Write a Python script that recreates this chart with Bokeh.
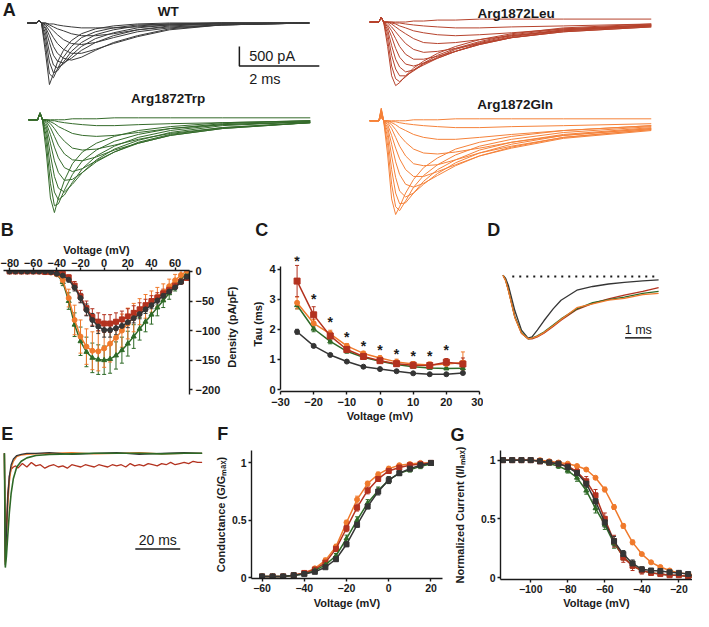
import math
from bokeh.plotting import figure
from bokeh.layouts import column, row
from bokeh.models import Label, Whisker, ColumnDataSource, Range1d, LinearAxis, FixedTicker, TeeHead
from bokeh.embed import file_html
from bokeh.resources import INLINE

FONT = "Liberation Sans"
S = 0.975
INK = "#1a1a1a"
C_WT = "#353535"
C_LEU = "#b3321f"
C_TRP = "#2e6a27"
C_GLN = "#f07a2c"

# ---------------- Panel A: current traces (time in ms, current in pA) ----------------
A_t = [-0.35, -0.12, -0.06, 0.0, 0.1, 0.2, 0.3, 0.4, 0.55, 0.75, 1.0, 1.35, 1.8, 2.4, 3.2, 4.5, 6.7]
A_wt = [
    [0, 0, 75, 0, -750, -1575, -1300, -1000, -700, -450, -275, -150, -75, -25, 0, 0, 0],
    [0, 0, 75, 0, -550, -1300, -1400, -1175, -875, -600, -375, -225, -125, -50, -25, 0, 0],
    [0, 0, 75, 0, -375, -1000, -1275, -1225, -1000, -725, -500, -300, -175, -75, -25, 0, 0],
    [0, 0, 75, 0, -250, -750, -1075, -1150, -1050, -825, -600, -400, -250, -125, -50, 0, 0],
    [0, 0, 75, 0, -150, -500, -825, -975, -1025, -900, -700, -500, -325, -175, -75, -25, 0],
    [0, 0, 75, 0, -100, -325, -600, -775, -900, -950, -875, -700, -500, -325, -150, -50, 0],
    [0, 0, 75, 0, -50, -200, -375, -525, -675, -775, -775, -675, -525, -350, -175, -50, 0],
    [0, 0, 75, 0, -25, -100, -200, -300, -425, -525, -550, -500, -375, -225, -125, -50, 0],
    [0, 0, 75, 0, 0, -50, -100, -150, -200, -275, -325, -325, -275, -175, -100, -50, 0],
    [0, 0, 75, 0, 0, -25, -25, -50, -75, -100, -125, -125, -125, -100, -50, -25, 0],
]
A_leu = [
    [0, 0, 125, 0, -625, -1375, -1625, -1550, -1375, -1175, -1000, -800, -625, -450, -300, -150, -50],
    [0, 0, 125, 0, -450, -1125, -1450, -1525, -1400, -1225, -1050, -850, -675, -500, -325, -175, -75],
    [0, 0, 125, 0, -300, -850, -1200, -1375, -1375, -1250, -1075, -900, -700, -525, -350, -200, -75],
    [0, 0, 125, 0, -200, -600, -950, -1150, -1275, -1225, -1100, -925, -750, -550, -375, -200, -100],
    [0, 0, 125, 0, -125, -375, -675, -900, -1075, -1125, -1050, -925, -750, -575, -400, -225, -100],
    [0, 0, 125, 0, -75, -225, -425, -625, -825, -950, -950, -875, -750, -575, -400, -250, -125],
    [0, 0, 125, 0, -25, -125, -250, -375, -550, -700, -775, -750, -675, -550, -400, -250, -125],
    [0, 0, 125, 0, 0, -50, -125, -200, -300, -425, -525, -550, -525, -450, -350, -225, -100],
    [0, 0, 125, 0, 0, -25, -50, -100, -150, -225, -275, -325, -350, -325, -275, -175, -75],
    [0, 0, 125, 0, 0, 0, -25, -25, -50, -75, -100, -125, -150, -150, -125, -100, -50],
    [0, 0, 125, 0, 0, 0, 0, 0, 0, 25, 25, 50, 50, 75, 75, 75, 75],
]
A_trp = [
    [0, 0, 175, 0, -875, -2000, -2375, -2000, -1550, -1125, -825, -600, -425, -275, -175, -75, -25],
    [0, 0, 175, 0, -625, -1625, -2200, -2150, -1800, -1400, -1050, -775, -550, -375, -225, -100, -25],
    [0, 0, 175, 0, -425, -1250, -1850, -2050, -1925, -1600, -1250, -925, -675, -450, -275, -125, -50],
    [0, 0, 175, 0, -275, -900, -1450, -1750, -1850, -1650, -1350, -1025, -750, -525, -325, -150, -50],
    [0, 0, 175, 0, -175, -600, -1050, -1350, -1550, -1525, -1350, -1075, -825, -575, -375, -200, -75],
    [0, 0, 175, 0, -100, -375, -700, -975, -1225, -1325, -1250, -1050, -825, -600, -400, -225, -75],
    [0, 0, 175, 0, -50, -200, -425, -650, -875, -1025, -1050, -950, -775, -600, -400, -225, -75],
    [0, 0, 175, 0, -25, -100, -225, -375, -550, -725, -775, -750, -650, -500, -350, -200, -75],
    [0, 0, 175, 0, 0, -50, -100, -175, -250, -350, -400, -425, -400, -325, -225, -125, -50],
    [0, 0, 175, 0, 0, -25, -25, -50, -75, -100, -125, -150, -150, -125, -100, -75, -25],
    [0, 0, 175, 0, 0, 0, 0, 0, 0, 25, 25, 25, 50, 50, 50, 50, 50],
]
A_gln = [
    [0, 0, 325, 0, -875, -2000, -2400, -2200, -1850, -1500, -1200, -950, -725, -550, -400, -250, -125],
    [0, 0, 300, 0, -625, -1625, -2200, -2300, -2050, -1700, -1400, -1125, -875, -650, -475, -300, -150],
    [0, 0, 275, 0, -425, -1250, -1850, -2125, -2100, -1850, -1550, -1250, -1000, -750, -550, -350, -175],
    [0, 0, 250, 0, -275, -900, -1450, -1800, -1950, -1850, -1625, -1350, -1075, -825, -600, -375, -200],
    [0, 0, 225, 0, -175, -600, -1050, -1375, -1625, -1700, -1600, -1400, -1150, -900, -675, -425, -225],
    [0, 0, 200, 0, -100, -375, -700, -975, -1250, -1425, -1425, -1300, -1125, -900, -700, -450, -250],
    [0, 0, 175, 0, -50, -200, -425, -650, -900, -1100, -1150, -1125, -1000, -825, -650, -425, -225],
    [0, 0, 150, 0, -25, -100, -225, -375, -550, -725, -825, -850, -800, -700, -550, -375, -200],
    [0, 0, 125, 0, 0, -50, -100, -175, -250, -350, -425, -475, -475, -425, -350, -250, -125],
    [0, 0, 100, 0, 0, -25, -25, -50, -75, -100, -125, -150, -175, -175, -150, -125, -75],
    [0, 0, 75, 0, 0, 0, 0, 0, 0, 25, 25, 25, 50, 50, 50, 50, 50],
]
A_titles = ["WT", "Arg1872Leu", "Arg1872Trp", "Arg1872Gln"]
SB_A_T = 2.0      # ms
SB_A_I = 500.0    # pA

# ---------------- Panel B: current density vs voltage ----------------
B_v = [-80, -75, -70, -65, -60, -55, -50, -45, -40, -35, -30, -25, -20, -15, -10, -5, 0,
       5, 10, 15, 20, 25, 30, 35, 40, 45, 50, 55, 60, 65, 70]
B_wt = [0, 0, 0, 0, 0, 0, 0, -1, -4, -7, -14, -27, -45, -65, -82, -93, -99, -99, -96, -92,
        -86, -79, -72, -64, -57, -49, -41, -34, -27, -18, -9]
B_leu = [0, 0, 0, 0, 0, 0, -1, -1, -2, -4, -10, -24, -42, -62, -77, -85, -88, -88, -85, -81,
         -76, -70, -64, -57, -50, -44, -37, -31, -24, -17, -11]
B_trp = [0, 0, 0, 0, 0, 0, -1, -2, -5, -18, -50, -90, -118, -136, -146, -149, -150, -148,
         -142, -133, -122, -110, -97, -85, -73, -61, -49, -37, -25, -13, -3]
B_gln = [0, 0, 0, 0, 0, 0, -1, -2, -5, -15, -45, -82, -110, -127, -134, -135, -130, -122,
         -112, -100, -88, -78, -68, -59, -51, -43, -35, -25, -15, -6, 1]
B_wt_e = [0, 0, 0, 0, 0, 0, 0, 0, 1, 2, 4, 6, 8, 10, 11, 12, 12, 12, 11, 10, 9, 8, 8, 7, 6, 6, 5, 4, 3, 2, 1]
B_leu_e = [0, 0, 0, 0, 0, 0, 0, 0, 1, 2, 4, 7, 10, 12, 14, 15, 15, 15, 15, 14, 13, 12, 11, 10, 9, 8, 7, 6, 5, 4, 3]
B_trp_e = [0, 0, 0, 0, 0, 0, 0, 1, 2, 6, 14, 20, 24, 25, 25, 25, 24, 24, 23, 22, 21, 20, 19, 17, 16, 14, 12, 10, 8, 6, 4]
B_gln_e = [0, 0, 0, 0, 0, 0, 0, 1, 2, 6, 15, 25, 28, 30, 32, 33, 32, 31, 30, 28, 26, 24, 22, 20, 18, 16, 14, 12, 10, 8, 6]
B_xticks = [-80, -60, -40, -20, 0, 20, 40, 60]
B_yticks = [0, -50, -100, -150, -200]

# ---------------- Panel C: inactivation tau vs voltage ----------------
C_v = [-25, -20, -15, -10, -5, 0, 5, 10, 15, 20, 25]
C_wt = [1.92, 1.45, 1.15, 0.93, 0.76, 0.68, 0.61, 0.54, 0.51, 0.51, 0.55]
C_leu = [3.60, 2.48, 1.78, 1.33, 1.10, 0.96, 0.86, 0.81, 0.80, 0.91, 0.85]
C_trp = [2.80, 2.02, 1.60, 1.27, 1.07, 0.94, 0.83, 0.76, 0.72, 0.70, 0.71]
C_gln = [2.88, 2.20, 1.85, 1.45, 1.20, 1.05, 0.92, 0.85, 0.82, 0.85, 0.90]
C_wt_e = [0.08, 0.05, 0.04, 0.03, 0.03, 0.02, 0.02, 0.02, 0.02, 0.02, 0.03]
C_leu_e = [0.52, 0.27, 0.15, 0.10, 0.08, 0.07, 0.07, 0.07, 0.09, 0.12, 0.20]
C_trp_e = [0.12, 0.10, 0.08, 0.06, 0.05, 0.04, 0.04, 0.03, 0.03, 0.03, 0.03]
C_gln_e = [0.20, 0.13, 0.12, 0.08, 0.07, 0.07, 0.09, 0.08, 0.10, 0.15, 0.35]
C_star_v = [-25, -20, -15, -10, -5, 0, 5, 10, 15, 20]
C_star_y = [4.27, 3.0, 2.25, 1.75, 1.45, 1.3, 1.18, 1.1, 1.1, 1.3]
C_xticks = [-30, -20, -10, 0, 10, 20, 30]
C_yticks = [0, 1, 2, 3, 4]
C_ybounds = (0, 4.1)

# ---------------- Panel D: normalized overlay (ms) ----------------
D_t = [0, 0.1, 0.2, 0.45, 0.7, 0.95, 1.1, 1.3, 1.55, 1.9, 2.2, 2.8, 3.4, 4.0, 4.6, 5.3, 5.9]
D_wt = [0.02, -0.03, -0.14, -0.55, -0.86, -0.99, -0.97, -0.86, -0.71, -0.52, -0.38, -0.22,
        -0.16, -0.12, -0.095, -0.07, -0.055]
D_leu = [0.02, -0.06, -0.21, -0.65, -0.91, -1.0, -1.0, -0.97, -0.91, -0.8, -0.7, -0.53,
         -0.43, -0.36, -0.3, -0.24, -0.18]
D_trp = [0.02, -0.06, -0.21, -0.65, -0.9, -1.0, -0.99, -0.95, -0.89, -0.78, -0.68, -0.52,
         -0.42, -0.37, -0.33, -0.27, -0.24]
D_gln = [0.02, -0.07, -0.22, -0.66, -0.91, -1.0, -0.99, -0.96, -0.9, -0.79, -0.69, -0.5,
         -0.44, -0.38, -0.35, -0.29, -0.27]
D_dot_t = [0.35, 5.9]
D_dot_y = [0.0, 0.0]
SB_D_T = 1.0

# ---------------- Panel E: long traces (ms) ----------------
E_t = [0, 0.4, 0.9, 1.5, 2.2, 3, 4, 5.5, 7.5, 10, 14, 20, 30, 40, 50, 60, 70, 80, 88]
E_wt = [0, -0.98, -0.7, -0.4, -0.2, -0.1, -0.05, -0.02, -0.01, 0.0, 0.0, 0.005, -0.01, 0.0,
        0.005, -0.01, 0.0, 0.005, 0.0]
E_gln = [0, -0.97, -0.75, -0.47, -0.25, -0.13, -0.07, -0.03, -0.015, -0.01, -0.005, 0.0,
         0.005, -0.005, 0.0, 0.005, -0.005, 0.0, 0.0]
E_trp = [0, -1.0, -0.9, -0.72, -0.52, -0.35, -0.22, -0.12, -0.07, -0.04, -0.02, -0.01,
         -0.005, 0.0, 0.0, 0.0, -0.005, 0.0, 0.0]
E_leu_t = [0, 0.4, 0.9, 1.5, 2.2, 3, 4, 5, 6, 8, 10, 12, 14, 16, 18, 20, 22, 24, 26, 28, 30,
           32, 34, 36, 38, 40, 42, 44, 46, 48, 50, 52, 54, 56, 58, 60, 62, 64, 66, 68, 70,
           72, 74, 76, 78, 80, 82, 84, 86, 88]
E_leu = [0, -0.95, -0.62, -0.35, -0.2, -0.14, -0.12, -0.11,
         -0.13, -0.09, -0.12, -0.08, -0.11, -0.10, -0.13, -0.11, -0.10, -0.12,
         -0.11, -0.13, -0.10, -0.11, -0.12, -0.10, -0.11, -0.12, -0.10, -0.11,
         -0.12, -0.10, -0.11, -0.10, -0.12, -0.09, -0.11, -0.10, -0.11, -0.09,
         -0.10, -0.11, -0.09, -0.10, -0.08, -0.10, -0.09, -0.08, -0.09, -0.07,
         -0.08, -0.08]
SB_E_T = 20.0

# ---------------- Panel F: conductance-voltage ----------------
F_v = [-60, -55, -50, -45, -40, -35, -30, -25, -20, -15, -10, -5, 0, 5, 10, 15, 20]
F_wt = [0.01, 0.01, 0.01, 0.02, 0.03, 0.05, 0.09, 0.16, 0.29, 0.46, 0.62, 0.75, 0.85, 0.91, 0.95, 0.98, 1.0]
F_trp = [0.01, 0.01, 0.01, 0.02, 0.03, 0.06, 0.11, 0.19, 0.34, 0.50, 0.65, 0.76, 0.85, 0.91, 0.94, 0.97, 0.99]
F_leu = [0.01, 0.01, 0.01, 0.02, 0.04, 0.07, 0.13, 0.25, 0.43, 0.61, 0.76, 0.86, 0.93, 0.96, 0.98, 0.99, 1.0]
F_gln = [0.01, 0.01, 0.01, 0.02, 0.04, 0.08, 0.15, 0.27, 0.48, 0.68, 0.82, 0.90, 0.95, 0.98, 0.99, 1.0, 1.0]
F_wt_e = [0.01, 0.01, 0.01, 0.01, 0.01, 0.01, 0.01, 0.02, 0.02, 0.02, 0.02, 0.03, 0.03, 0.02, 0.02, 0.01, 0.01]
F_trp_e = [0.01, 0.01, 0.01, 0.01, 0.01, 0.01, 0.02, 0.02, 0.03, 0.03, 0.03, 0.03, 0.03, 0.02, 0.02, 0.02, 0.01]
F_leu_e = [0.01, 0.01, 0.01, 0.01, 0.01, 0.01, 0.02, 0.02, 0.03, 0.03, 0.03, 0.02, 0.02, 0.02, 0.01, 0.01, 0.01]
F_gln_e = [0.01, 0.01, 0.01, 0.01, 0.01, 0.01, 0.02, 0.02, 0.02, 0.03, 0.02, 0.02, 0.02, 0.01, 0.01, 0.01, 0.01]
F_xticks = [-60, -40, -20, 0, 20]
F_yticks = [0, 0.5, 1.0]

# ---------------- Panel G: steady-state inactivation ----------------
G_v = [-115, -110, -105, -100, -95, -90, -85, -80, -75, -70, -65, -60, -55, -50, -45, -40,
       -35, -30, -25, -20, -15, -10]
G_wt = [1.0, 1.0, 1.0, 1.0, 0.99, 0.98, 0.97, 0.94, 0.89, 0.80, 0.65, 0.47, 0.31, 0.20, 0.12,
        0.07, 0.06, 0.055, 0.045, 0.04, 0.03, 0.0]
G_trp = [1.0, 1.0, 1.0, 1.0, 0.99, 0.97, 0.95, 0.91, 0.85, 0.74, 0.59, 0.45, 0.29, 0.18, 0.10,
         0.06, 0.04, 0.03, 0.02, 0.02, 0.01, 0.0]
G_leu = [1.0, 1.0, 1.0, 1.0, 0.99, 0.98, 0.97, 0.95, 0.90, 0.82, 0.70, 0.50, 0.31, 0.17, 0.10,
         0.06, 0.04, 0.03, 0.02, 0.02, 0.01, 0.0]
G_gln = [1.0, 1.0, 1.0, 1.0, 1.0, 0.99, 0.98, 0.97, 0.95, 0.92, 0.85, 0.75, 0.60, 0.44, 0.30,
         0.20, 0.13, 0.09, 0.06, 0.04, 0.03, 0.02]
G_wt_e = [0.01, 0.01, 0.01, 0.01, 0.01, 0.01, 0.01, 0.02, 0.02, 0.03, 0.04, 0.04, 0.04, 0.03,
          0.03, 0.02, 0.01, 0.01, 0.01, 0.01, 0.01, 0.01]
G_trp_e = [0.01, 0.01, 0.01, 0.01, 0.01, 0.01, 0.02, 0.02, 0.03, 0.03, 0.04, 0.04, 0.04, 0.03,
           0.02, 0.02, 0.01, 0.01, 0.01, 0.01, 0.01, 0.01]
G_leu_e = [0.01, 0.01, 0.01, 0.01, 0.01, 0.01, 0.01, 0.02, 0.03, 0.04, 0.05, 0.05, 0.05, 0.04,
           0.04, 0.03, 0.02, 0.01, 0.01, 0.01, 0.01, 0.01]
G_gln_e = [0.01, 0.01, 0.01, 0.01, 0.01, 0.01, 0.01, 0.01, 0.01, 0.01, 0.01, 0.02, 0.02, 0.02,
           0.02, 0.01, 0.01, 0.01, 0.01, 0.01, 0.01, 0.01]
G_xticks = [-100, -80, -60, -40, -20]
G_yticks = [0, 0.5, 1.0]


# ============================ helpers ============================
def make_fig(box, frame, xmap, ymap):
    bx0, by0, bx1, by1 = box
    fx0, fy0, fx1, fy1 = frame
    axp, axv, kx = xmap
    ayp, ayv, ky = ymap
    xr = (axv + (fx0 - axp) / kx, axv + (fx1 - axp) / kx)
    yr = (ayv - (fy1 - ayp) / ky, ayv + (ayp - fy0) / ky)
    p = figure(width=round((bx1 - bx0) * S), height=round((by1 - by0) * S),
               x_range=Range1d(*xr), y_range=Range1d(*yr),
               x_axis_location=None, y_axis_location=None,
               output_backend="svg", toolbar_location=None,
               min_border_left=round((fx0 - bx0) * S), min_border_right=round((bx1 - fx1) * S),
               min_border_top=round((fy0 - by0) * S), min_border_bottom=round((by1 - fy1) * S))
    p.outline_line_color = None
    p.background_fill_color = "white"
    p.border_fill_color = "white"
    p.xgrid.visible = False
    p.ygrid.visible = False

    def to_data(x, y):
        return (axv + (x - axp) / kx, ayv - (y - ayp) / ky)
    return p, to_data


def add_label(p, td, x, y, text, size, bold=False, align="center", angle=0.0):
    dx, dy = td(x, y)
    p.add_layout(Label(x=dx, y=dy, text=text, angle=angle, text_font=FONT,
                       text_font_size=size, text_font_style="bold" if bold else "normal",
                       text_align=align, text_baseline="middle", text_color=INK))


def add_axis(p, side, ticks, label="", tsize="11px", lsize="11px", tstand=2, lstand=2, tick_out=3):
    ax = LinearAxis(ticker=FixedTicker(ticks=ticks))
    if label:
        ax.axis_label = label
    ax.axis_label_text_font = FONT
    ax.axis_label_text_font_style = "bold"
    ax.axis_label_text_font_size = lsize
    ax.axis_label_text_color = INK
    ax.major_label_text_font = FONT
    ax.major_label_text_font_style = "bold"
    ax.major_label_text_font_size = tsize
    ax.major_label_text_color = INK
    ax.axis_line_color = INK
    ax.axis_line_width = 1.4
    ax.major_tick_line_color = INK
    ax.major_tick_line_width = 1.4
    ax.major_tick_in = 0
    ax.major_tick_out = tick_out
    ax.minor_tick_line_color = None
    ax.major_label_standoff = tstand
    ax.axis_label_standoff = lstand
    p.add_layout(ax, side)
    return ax


def series(p, xs, ys, errs, color, marker, size, lw=1.5):
    src = ColumnDataSource(dict(x=xs, y=ys,
                                lo=[a - e for a, e in zip(ys, errs)],
                                hi=[a + e for a, e in zip(ys, errs)]))
    p.add_layout(Whisker(source=src, base="x", upper="hi", lower="lo",
                         line_color=color, line_width=1,
                         upper_head=TeeHead(size=4, line_color=color, line_width=1),
                         lower_head=TeeHead(size=4, line_color=color, line_width=1)))
    p.line("x", "y", source=src, line_color=color, line_width=lw)
    p.scatter("x", "y", source=src, marker=marker, size=size, fill_color=color, line_color=color)


def trace_panel(box, onset_x, base_y, traces, color, title, title_xy):
    p, td = make_fig(box, box, (onset_x, 0.0, 41.0), (base_y, 0.0, 0.04))
    p.multi_line([A_t] * len(traces), traces, line_color=color, line_width=1.0)
    add_label(p, td, title_xy[0], title_xy[1], title, "13.5px", bold=True)
    return p, td


# ============================ Panel A ============================
p_wt, td_wt = trace_panel((0, 0, 360, 90), 42, 23, A_wt, "#3a3a3a", A_titles[0], (172, 11))
p_trp, _ = trace_panel((0, 90, 360, 221), 43, 122, A_trp, "#356b2b", A_titles[2], (172, 100))
p_leu, _ = trace_panel((360, 0, 709, 92), 393, 22, A_leu, "#b6432d", A_titles[1], (529, 13))
p_gln, _ = trace_panel((360, 92, 709, 221), 393, 123, A_gln, "#f5823a", A_titles[3], (528, 106))
add_label(p_wt, td_wt, 9, 10, "A", "18px", bold=True)
sx, sy = td_wt(245, 67)
p_wt.line([sx, sx, sx + SB_A_T], [sy + SB_A_I, sy, sy], line_color=INK, line_width=1.5)
add_label(p_wt, td_wt, 255, 57, "500 pA", "14.5px", align="left")
add_label(p_wt, td_wt, 255, 80, "2 ms", "14.5px", align="left")

# ============================ letter strip B / C / D ============================
p_s1, td_s1 = make_fig((0, 221, 709, 246), (0, 221, 709, 246), (0, 0.0, 1.0), (221, 0.0, 1.0))
add_label(p_s1, td_s1, 7, 235, "B", "18px", bold=True)
add_label(p_s1, td_s1, 268, 235, "C", "18px", bold=True)
add_label(p_s1, td_s1, 506, 235, "D", "18px", bold=True)

# ============================ Panel B ============================
pB, tdB = make_fig((0, 246, 229, 435), (3, 272, 197, 404), (108, 0.0, 1.233), (273, 0.0, 0.63))
add_axis(pB, "above", B_xticks, "Voltage (mV)", tstand=1, lstand=0)
add_axis(pB, "right", B_yticks, "", tstand=3)
series(pB, B_v, B_trp, B_trp_e, C_TRP, "triangle", 5)
series(pB, B_v, B_gln, B_gln_e, C_GLN, "circle", 5)
series(pB, B_v, B_leu, B_leu_e, C_LEU, "square", 5)
series(pB, B_v, B_wt, B_wt_e, C_WT, "circle", 5)

# y-axis title of B, in its own narrow strip
p_lab, td_lab = make_fig((229, 246, 245, 435), (229, 246, 245, 435), (229, 0.0, 1.0), (246, 0.0, 1.0))
add_label(p_lab, td_lab, 237, 335, "Density (pA/pF)", "11px", bold=True, angle=math.pi / 2)

# ============================ Panel C ============================
pC, tdC = make_fig((245, 246, 495, 435), (287, 262, 491, 404), (287, -30.0, 3.4), (402, 0.0, 31.7))
add_axis(pC, "below", C_xticks, "Voltage (mV)", tstand=3, lstand=1)
axCy = add_axis(pC, "left", C_yticks, "Tau (ms)", tstand=2, lstand=2)
axCy.bounds = C_ybounds
series(pC, C_v, C_wt, C_wt_e, C_WT, "circle", 5)
series(pC, C_v, C_trp, C_trp_e, C_TRP, "triangle", 5)
series(pC, C_v, C_gln, C_gln_e, C_GLN, "circle", 5)
series(pC, C_v, C_leu, C_leu_e, C_LEU, "square", 6)
for sv, syv in zip(C_star_v, C_star_y):
    pC.add_layout(Label(x=sv, y=syv, text="*", text_font=FONT, text_font_size="14px",
                        text_font_style="bold", text_align="center", text_baseline="middle",
                        text_color=INK))

# ============================ Panel D ============================
pD, tdD = make_fig((495, 246, 709, 435), (495, 246, 709, 435), (515, 0.0, 27.0), (283, 0.0, 64.0))
pD.line(D_dot_t, D_dot_y, line_color=INK, line_width=2.2, line_dash="2 5")
pD.line(D_t, D_wt, line_color=C_WT, line_width=1.3)
pD.line(D_t, D_leu, line_color=C_LEU, line_width=1.3)
pD.line(D_t, D_trp, line_color=C_TRP, line_width=1.3)
pD.line(D_t, D_gln, line_color=C_GLN, line_width=1.3)
dx0, dy0 = tdD(640, 346)
pD.line([dx0, dx0 + SB_D_T], [dy0, dy0], line_color=INK, line_width=1.5)
add_label(pD, tdD, 653.5, 338, "1 ms", "12.5px")

# ============================ letter strip E / F / G ============================
p_s2, td_s2 = make_fig((0, 435, 709, 456), (0, 435, 709, 456), (0, 0.0, 1.0), (435, 0.0, 1.0))
add_label(p_s2, td_s2, 7, 445, "E", "18px", bold=True)
add_label(p_s2, td_s2, 228, 445, "F", "18px", bold=True)
add_label(p_s2, td_s2, 469, 446, "G", "18px", bold=True)

# ============================ Panel E ============================
pE, tdE = make_fig((0, 456, 216, 627), (0, 456, 216, 627), (4, 0.0, 2.3), (465, 0.0, 117.0))
pE.line(E_leu_t, E_leu, line_color=C_LEU, line_width=1.3)
pE.line(E_t, E_gln, line_color=C_GLN, line_width=1.3)
pE.line(E_t, E_wt, line_color=C_WT, line_width=1.3)
pE.line(E_t, E_trp, line_color=C_TRP, line_width=1.6)
ex0, ey0 = tdE(138, 563)
pE.line([ex0, ex0 + SB_E_T], [ey0, ey0], line_color=INK, line_width=1.5)
add_label(pE, tdE, 161, 554, "20 ms", "14px")

# ============================ Panel F ============================
pF, tdF = make_fig((216, 456, 460, 627), (254, 462, 453, 596), (265, -60.0, 2.2), (595, 0.0, 120.0))
add_axis(pF, "below", F_xticks, "Voltage (mV)", tsize="10.5px", tstand=2, lstand=2)
add_axis(pF, "left", F_yticks, "Conductance (G/G\u2098\u2090\u2093)", tsize="10.5px", tstand=2, lstand=2)
series(pF, F_v, F_gln, F_gln_e, C_GLN, "circle", 5)
series(pF, F_v, F_leu, F_leu_e, C_LEU, "square", 5)
series(pF, F_v, F_trp, F_trp_e, C_TRP, "triangle", 5)
series(pF, F_v, F_wt, F_wt_e, C_WT, "square", 5)

# ============================ Panel G ============================
pG, tdG = make_fig((460, 456, 709, 627), (512, 462, 709, 596), (543, -100.0, 1.9), (594, 0.0, 122.0))
add_axis(pG, "below", G_xticks, "Voltage (mV)", tsize="10.5px", tstand=2, lstand=1)
add_axis(pG, "left", G_yticks, "Normalized Current (I/I\u2098\u2090\u2093)", tsize="10.5px", tstand=2, lstand=12)
series(pG, G_v, G_gln, G_gln_e, C_GLN, "circle", 5)
series(pG, G_v, G_trp, G_trp_e, C_TRP, "triangle", 5)
series(pG, G_v, G_leu, G_leu_e, C_LEU, "square", 5)
series(pG, G_v, G_wt, G_wt_e, C_WT, "square", 5)

layout = column(row(column(p_wt, p_trp), column(p_leu, p_gln)),
                p_s1,
                row(column(pB), column(p_lab), column(pC), column(pD)),
                p_s2,
                row(column(pE), column(pF), column(pG)))
open("out.html", "w").write(file_html(layout, INLINE, "Figure"))
